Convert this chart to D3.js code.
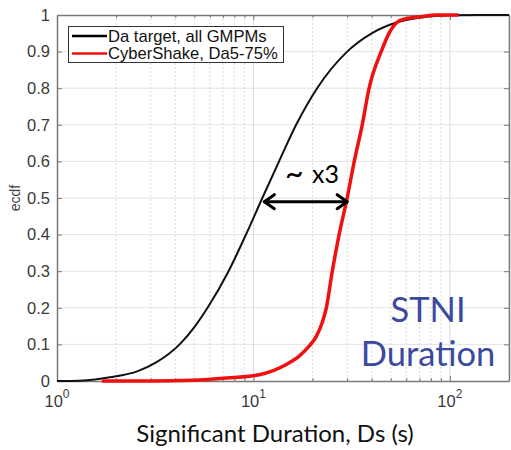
<!DOCTYPE html>
<html>
<head>
<meta charset="utf-8">
<script src="https://cdn.jsdelivr.net/npm/d3@7"></script>
<style>
  html, body { margin: 0; padding: 0; background: #fff; }
  svg { display: block; }
</style>
</head>
<body>
<svg id="chart" width="511" height="450"></svg>
<script>
// ---- data ----
const blackX = [1.0, 1.3, 1.56, 1.86, 2.58, 3.18, 4.21, 5.05, 5.84, 7.47, 9.16, 11.1, 13.5, 16.5, 21.1, 30.0, 40.0, 54.0, 76.0, 100, 200];
const blackY = [0, 0.001, 0.004, 0.01, 0.027, 0.05, 0.1, 0.15, 0.2, 0.3, 0.4, 0.5, 0.6, 0.7, 0.8, 0.9, 0.95, 0.98, 0.995, 0.999, 1.0];
const redX = [1.69, 3.0, 4.9, 7.3, 10.7, 14.7, 17.1, 19.2, 20.9, 22.4, 23.5, 25.2, 27.3, 30.0, 32.6, 35.8, 38.8, 44.7, 49.0, 53.8, 59.8, 70, 85, 111];
const redY = [0, 0, 0.002, 0.008, 0.017, 0.045, 0.068, 0.095, 0.122, 0.16, 0.2, 0.3, 0.4, 0.5, 0.6, 0.7, 0.8, 0.9, 0.95, 0.98, 0.99, 0.995, 1.0, 1.0];
const seriesNames = ["Da target, all GMPMs", "CyberShake, Da5-75%"];
const yTicks = [0, 0.1, 0.2, 0.3, 0.4, 0.5, 0.6, 0.7, 0.8, 0.9, 1];
const xMajor = [1, 10, 100];
const xExp = ["0", "1", "2"];
const xMinor = [2,3,4,5,6,7,8,9,20,30,40,50,60,70,80,90,200];
const arrowFrom = 11.1, arrowTo = 30.0, arrowLevel = 0.49;
const annotParts = ["~", " x3"];
const stniLines = ["STNI", "Duration"];
const xTitle = "Significant Duration, Ds (s)";
const yTitle = "ecdf";

// ---- layout ----
const L = 57, R = 509, T = 15, B = 381;
const svg = d3.select("#chart");
const x = d3.scaleLog().domain([1, 200]).range([L, R]);
const y = d3.scaleLinear().domain([0, 1]).range([B, T]);

// grid
const grid = svg.append("g");
grid.selectAll(".hg").data(yTicks.slice(1, -1)).join("line")
  .attr("x1", L).attr("x2", R).attr("y1", d => y(d)).attr("y2", d => y(d))
  .attr("stroke", "#e3e3e3").attr("stroke-width", 1);
grid.selectAll(".vm").data(xMinor).join("line")
  .attr("x1", d => x(d)).attr("x2", d => x(d)).attr("y1", T).attr("y2", B)
  .attr("stroke", "#cfcfcf").attr("stroke-width", 1).attr("stroke-dasharray", "1.5,2.5");
grid.selectAll(".vM").data(xMajor.slice(1)).join("line")
  .attr("x1", d => x(d)).attr("x2", d => x(d)).attr("y1", T).attr("y2", B)
  .attr("stroke", "#dcdcdc").attr("stroke-width", 1);

// axes
const axColor = "#7a7a7a";
const yAxis = svg.append("g").attr("transform", `translate(${L},0)`)
  .call(d3.axisLeft(y).tickValues(yTicks).tickFormat(d => d3.format("")(+d.toFixed(1))).tickSizeInner(-5).tickSizeOuter(0).tickPadding(7));
yAxis.select(".domain").attr("stroke", axColor).attr("stroke-width", 1.5);
yAxis.selectAll(".tick line").attr("stroke", axColor);
yAxis.selectAll("text").attr("font-family", "Liberation Sans, Arial, sans-serif").attr("font-size", 16.5).attr("fill", "#3a3a3a");

const yAxisR = svg.append("g").attr("transform", `translate(${R},0)`)
  .call(d3.axisRight(y).tickValues(yTicks).tickFormat("").tickSizeInner(-5).tickSizeOuter(0));
yAxisR.select(".domain").attr("stroke", axColor).attr("stroke-width", 1.5);
yAxisR.selectAll(".tick line").attr("stroke", axColor);

const xAxis = svg.append("g").attr("transform", `translate(0,${B})`)
  .call(d3.axisBottom(x).tickValues(xMajor).tickFormat("").tickSizeInner(-5).tickSizeOuter(0));
xAxis.select(".domain").attr("stroke", axColor).attr("stroke-width", 1.5);
xAxis.selectAll(".tick line").attr("stroke", axColor);
const xAxisMin = svg.append("g").attr("transform", `translate(0,${B})`)
  .call(d3.axisBottom(x).tickValues(xMinor).tickFormat("").tickSizeInner(-3).tickSizeOuter(0));
xAxisMin.select(".domain").remove();
xAxisMin.selectAll(".tick line").attr("stroke", axColor);

const xAxisT = svg.append("g").attr("transform", `translate(0,${T})`)
  .call(d3.axisTop(x).tickValues(xMajor).tickFormat("").tickSizeInner(-5).tickSizeOuter(0));
xAxisT.select(".domain").attr("stroke", axColor).attr("stroke-width", 1.5);
xAxisT.selectAll(".tick line").attr("stroke", axColor);
const xAxisTMin = svg.append("g").attr("transform", `translate(0,${T})`)
  .call(d3.axisTop(x).tickValues(xMinor).tickFormat("").tickSizeInner(-3).tickSizeOuter(0));
xAxisTMin.select(".domain").remove();
xAxisTMin.selectAll(".tick line").attr("stroke", axColor);

// x tick labels with superscripts
const xl = svg.append("g");
xMajor.forEach((v, i) => {
  const t = xl.append("text").attr("x", x(v)).attr("y", 407).attr("text-anchor", "middle")
    .attr("font-family", "Liberation Sans, Arial, sans-serif").attr("font-size", 16.5).attr("fill", "#3a3a3a");
  t.append("tspan").text("10");
  t.append("tspan").attr("dy", -9).attr("font-size", 12).text(xExp[i]);
});

// curves
const line = d3.line().x(d => x(d[0])).y(d => y(d[1])).curve(d3.curveMonotoneX);
svg.append("path").datum(blackX.map((v, i) => [v, blackY[i]]))
  .attr("d", line).attr("fill", "none").attr("stroke", "#111").attr("stroke-width", 2);
svg.append("path").datum(redX.map((v, i) => [v, redY[i]]))
  .attr("d", line).attr("fill", "none").attr("stroke", "#f01010").attr("stroke-width", 3.5);

// legend
const lg = svg.append("g");
lg.append("rect").attr("x", 68.5).attr("y", 26.5).attr("width", 215).attr("height", 36)
  .attr("fill", "#fff").attr("stroke", "#333").attr("stroke-width", 1);
const lc = ["#000", "#f01010"];
seriesNames.forEach((n, i) => {
  const yy = 36 + i * 17.5;
  lg.append("line").attr("x1", 72).attr("x2", 107).attr("y1", yy).attr("y2", yy)
    .attr("stroke", lc[i]).attr("stroke-width", 2.5);
  lg.append("text").attr("x", 108).attr("y", yy + 5.5)
    .attr("font-family", "Liberation Sans, Arial, sans-serif").attr("font-size", 16.6).attr("fill", "#111").text(n);
});

// arrow annotation
const ay = y(arrowLevel);
const ax1 = x(arrowFrom) + 2, ax2 = x(arrowTo);
const ag = svg.append("g").attr("stroke", "#000").attr("stroke-width", 3).attr("fill", "none")
  .attr("stroke-linecap", "round").attr("stroke-linejoin", "round");
ag.append("line").attr("x1", ax1).attr("x2", ax2).attr("y1", ay).attr("y2", ay);
ag.append("path").attr("d", `M${ax1 + 10},${ay - 7} L${ax1},${ay} L${ax1 + 10},${ay + 7}`);
ag.append("path").attr("d", `M${ax2 - 10},${ay - 7} L${ax2},${ay} L${ax2 - 10},${ay + 7}`);
const at = svg.append("text").attr("x", 285).attr("y", 183).attr("xml:space", "preserve")
  .attr("font-family", "Lato, 'Open Sans', sans-serif").attr("font-size", 25).attr("fill", "#000");
at.append("tspan").attr("font-size", 32).attr("dy", 2).text(annotParts[0]);
at.append("tspan").attr("dy", -2).attr("dx", 2).text(annotParts[1]);

// STNI Duration
stniLines.forEach((s, i) => {
  svg.append("text").attr("x", 428).attr("y", 322 + i * 44).attr("text-anchor", "middle")
    .attr("font-family", "Lato, 'Open Sans', sans-serif").attr("font-size", 34.5).attr("fill", "#3b4a9e").text(s);
});

// axis titles
svg.append("text").attr("x", 275).attr("y", 442).attr("text-anchor", "middle")
  .attr("font-family", "Lato, 'Open Sans', sans-serif").attr("font-size", 24).attr("fill", "#111").text(xTitle);
svg.append("text").attr("transform", "translate(20,198) rotate(-90)").attr("text-anchor", "middle")
  .attr("font-family", "Liberation Sans, Arial, sans-serif").attr("font-size", 14).attr("fill", "#444").text(yTitle);
</script>
</body>
</html>
